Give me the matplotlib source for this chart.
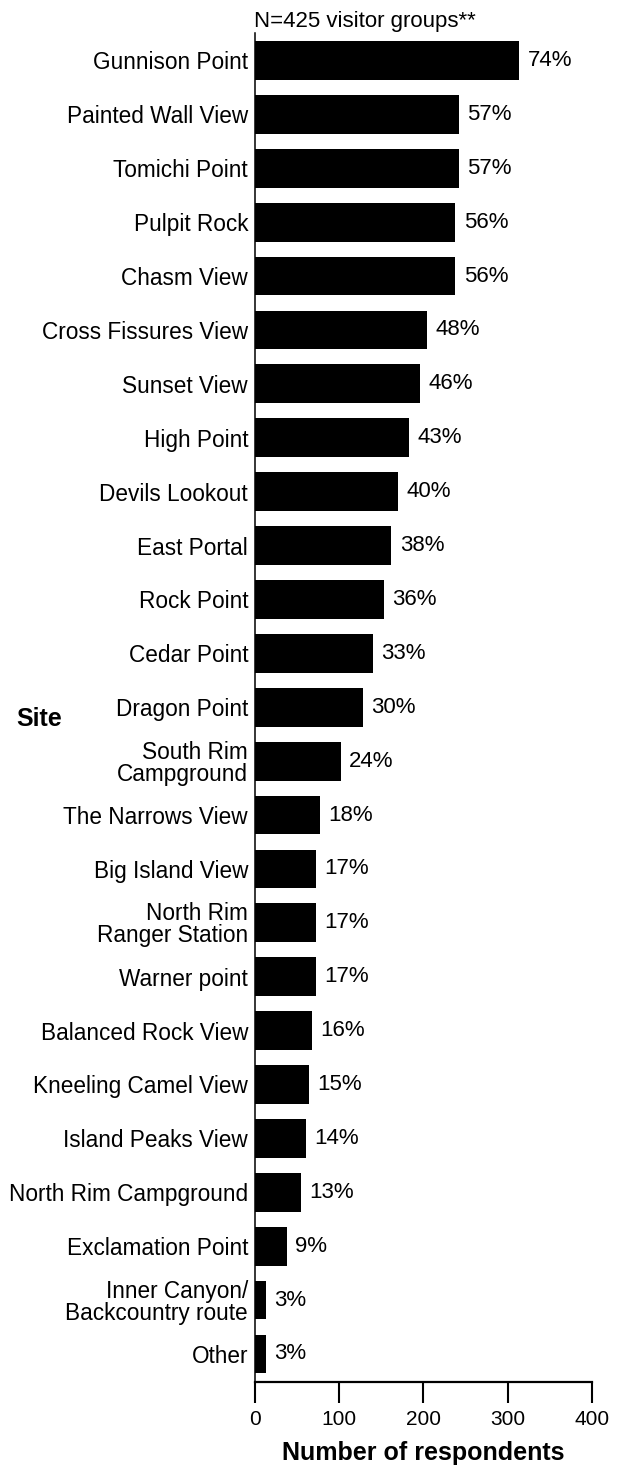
import matplotlib
matplotlib.use("Agg")
import matplotlib.pyplot as plt

plt.rcParams["font.family"] = ["Liberation Sans", "DejaVu Sans"]

# Sites, top to bottom
SITES = [
    "Gunnison Point", "Painted Wall View", "Tomichi Point", "Pulpit Rock",
    "Chasm View", "Cross Fissures View", "Sunset View", "High Point",
    "Devils Lookout", "East Portal", "Rock Point", "Cedar Point",
    "Dragon Point", "South Rim\nCampground", "The Narrows View",
    "Big Island View", "North Rim\nRanger Station", "Warner point",
    "Balanced Rock View", "Kneeling Camel View", "Island Peaks View",
    "North Rim Campground", "Exclamation Point",
    "Inner Canyon/\nBackcountry route", "Other",
]
# respondents (N=425)
COUNTS = [314, 242, 242, 238, 238, 204, 196, 183, 170, 162, 153, 140,
          128, 102, 77, 72, 72, 72, 68, 64, 60, 55, 38, 13, 13]
PCT = ["74%", "57%", "57%", "56%", "56%", "48%", "46%", "43%", "40%", "38%",
       "36%", "33%", "30%", "24%", "18%", "17%", "17%", "17%", "16%", "15%",
       "14%", "13%", "9%", "3%", "3%"]
XTICKS = [0, 100, 200, 300, 400]

fig = plt.figure(figsize=(6.18, 14.68), dpi=100)
ax = fig.add_axes([255 / 618, 1 - 1382 / 1468, 336.7 / 618, 1349 / 1468])

ypos = list(range(len(SITES)))
ax.barh(ypos, COUNTS, height=0.72, color="black", zorder=3)
for y, c, p in zip(ypos, COUNTS, PCT):
    ax.annotate(p, (c, y), xytext=(6, 0), textcoords="offset points",
                va="center", ha="left", fontsize=16)

ax.set_xlim(0, 400)
ax.set_ylim(24.52, -0.51)
ax.set_yticks(ypos)
ax.set_yticklabels(SITES, fontsize=16.3, linespacing=0.95)
ax.tick_params(axis="y", length=0, pad=5)
ax.set_xticks(XTICKS)
ax.set_xticklabels([str(t) for t in XTICKS], fontsize=15)
ax.tick_params(axis="x", length=15, width=1.5, direction="out", pad=5)

for s in ("top", "right"):
    ax.spines[s].set_visible(False)
ax.spines["left"].set_linewidth(1.1)
ax.spines["bottom"].set_linewidth(1.6)

ax.set_xlabel("Number of respondents", fontsize=18, fontweight="bold", labelpad=9)
ax.annotate("N=425 visitor groups**", (0, 1), xycoords="axes fraction",
            xytext=(-1, 4.5), textcoords="offset points",
            ha="left", va="baseline", fontsize=16)
fig.text(16 / 618, 1 - 719 / 1468, "Site", ha="left", va="center",
         fontsize=18, fontweight="bold")

fig.savefig("out.png", dpi=100)
